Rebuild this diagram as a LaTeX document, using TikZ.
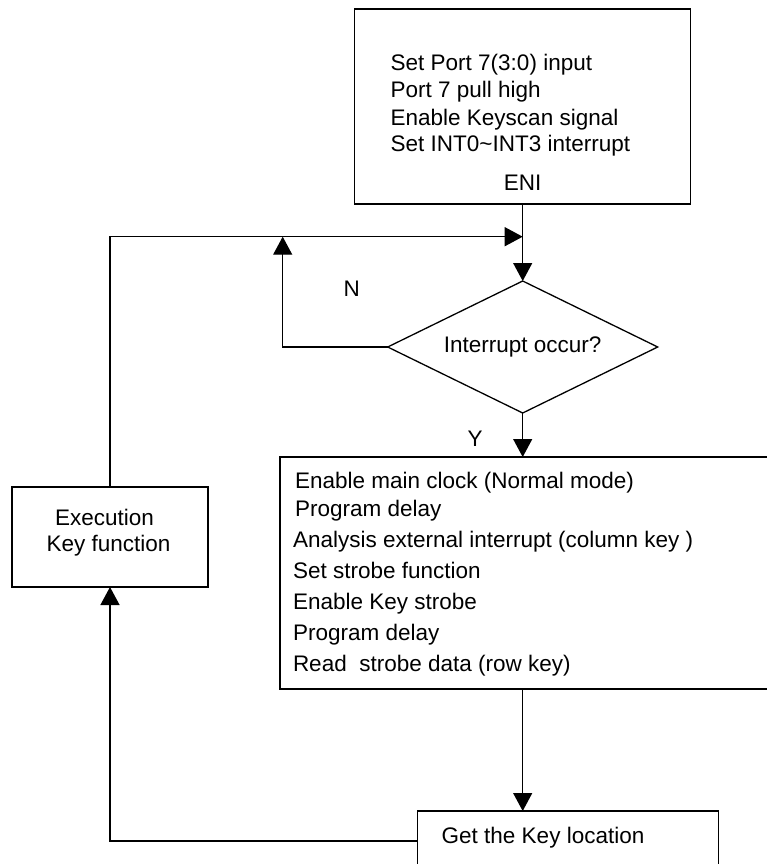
\documentclass[tikz,border=0pt]{standalone}
\usepackage{fontspec}
\setmainfont{Liberation Sans}
\usetikzlibrary{arrows.meta,shapes.geometric}
\begin{document}
\begin{tikzpicture}[x=1pt,y=-1pt,
  line width=1.3pt,
  every node/.style={inner sep=0pt,outer sep=0pt,font=\fontsize{22.5}{27}\selectfont},
  boxnode/.style={draw,rectangle,line width=1.3pt},
  txt/.style={anchor=base west},
  ctxt/.style={anchor=base},
  arr/.style={-{Triangle[length=18pt,width=19pt]}}]
\useasboundingbox (0,0) rectangle (767,864);
\clip (0,0) rectangle (767,864);
% boxes
\node[boxnode,minimum width=336pt,minimum height=195pt] (topbox) at (522.7,106.5) {};
\node[draw,diamond,aspect=2.045,line width=1.3pt,minimum width=270pt,minimum height=132pt] (dec) at (522.7,347) {Interrupt occur?};
\node[boxnode,minimum width=520pt,minimum height=232pt] (bigbox) at (540,573) {};
\node[boxnode,minimum width=196pt,minimum height=100pt] (exec) at (110,537) {};
\node[boxnode,minimum width=301pt,minimum height=60pt] (keybox) at (568.3,841) {};
% texts
\node[txt] (t1) at (390.7,71) {Set Port 7(3:0) input};
\node[txt] (t2) at (390.7,98) {Port 7 pull high};
\node[txt] (t3) at (390.7,125) {Enable Keyscan signal};
\node[txt] (t4) at (390.7,151) {Set INT0\char"7E INT3 interrupt};
\node[ctxt] (t5) at (522.7,190) {ENI};
\node[ctxt] (lN) at (351.7,296) {N};
\node[ctxt] (lY) at (475,446) {Y};
\node[txt] (b1) at (295,488) {Enable main clock (Normal mode)};
\node[txt] (b2) at (295,516) {Program delay};
\node[txt] (b3) at (293,547) {Analysis external interrupt (column key )};
\node[txt] (b4) at (293,578) {Set strobe function};
\node[txt] (b5) at (293,609) {Enable Key strobe};
\node[txt] (b6) at (293,640) {Program delay};
\node[txt] (b7) at (293,671) {Read\ \ strobe data (row key)};
\node[txt] (e1) at (55,525) {Execution};
\node[txt] (e2) at (46.7,551) {Key function};
\node[txt] (k1) at (441.7,843) {Get the Key location};
% connectors
\coordinate (j) at (522.7,236.7);
\coordinate (nl) at (282.7,236.7);
\draw[arr] (topbox.south) -- (dec.north);
\draw[arr] (exec.north) |- (j);
\draw[arr] (dec.west) -| (nl);
\draw[arr] (dec.south) -- (dec.south |- bigbox.north);
\draw[arr] (dec.south |- bigbox.south) -- (dec.south |- keybox.north);
\draw[arr] (keybox.west) -| (exec.south);
\end{tikzpicture}
\end{document}
